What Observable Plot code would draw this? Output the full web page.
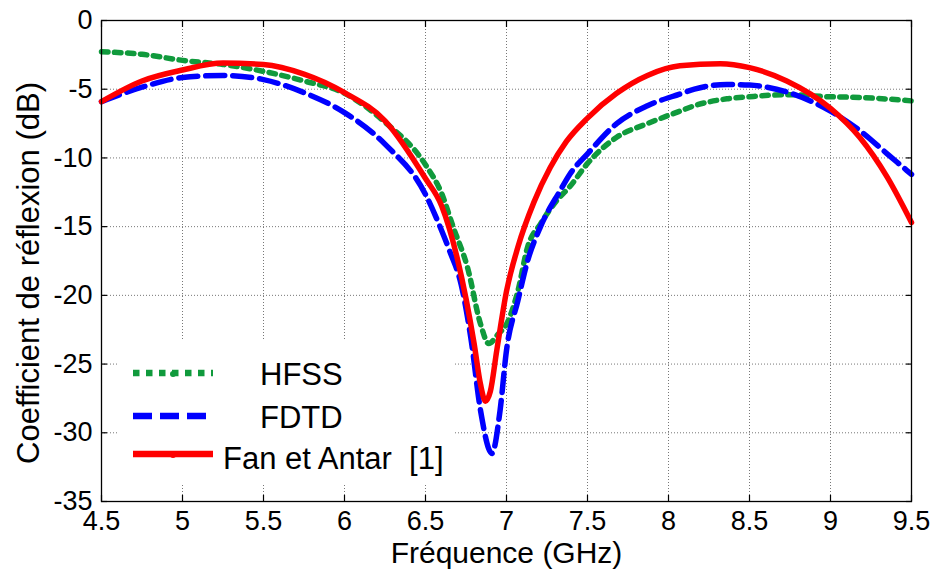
<!DOCTYPE html>
<html><head><meta charset="utf-8">
<script src="https://cdn.jsdelivr.net/npm/d3@7"></script>
<script src="https://cdn.jsdelivr.net/npm/@observablehq/plot@0.6"></script>
<style>
body{margin:0;background:#fff;}
#chart{width:933px;height:570px;}
</style>
</head><body><div id="chart"></div>
<script>
// ---- data ----
const seriesNames = ["HFSS", "FDTD", "Fan et Antar  [1]"];
const seriesColors = ["#109a3c", "#0000ff", "#ff0000"];
const xTitle = "Fréquence (GHz)";
const yTitle = "Coefficient de réflexion (dB)";

const hfssF = [4.5, 4.75, 5.0, 5.25, 5.5, 5.75, 6.0, 6.25, 6.5, 6.6, 6.67, 6.76, 6.84, 6.89, 6.95, 7.0, 7.07, 7.13, 7.21, 7.31, 7.39, 7.5, 7.68, 7.87, 8.07, 8.16, 8.36, 8.5, 8.73, 9.0, 9.18, 9.5];
const hfssDb = [-2.27, -2.46, -2.9, -3.2, -3.7, -4.4, -5.3, -7.4, -10.5, -12.6, -15.0, -18.0, -22.1, -23.5, -22.8, -22.1, -19.7, -16.5, -14.8, -13.1, -12.1, -10.4, -8.5, -7.5, -6.6, -6.2, -5.7, -5.55, -5.4, -5.55, -5.6, -5.85];

const fdtdF = [4.5, 4.75, 5.0, 5.25, 5.5, 5.75, 6.0, 6.25, 6.5, 6.6, 6.65, 6.72, 6.78, 6.84, 6.91, 6.96, 7.0, 7.07, 7.13, 7.21, 7.33, 7.39, 7.5, 7.68, 7.87, 8.07, 8.16, 8.36, 8.5, 8.73, 9.0, 9.18, 9.35, 9.5];
const fdtdDb = [-5.9, -4.85, -4.15, -4.0, -4.3, -5.25, -6.7, -9.0, -12.65, -15.3, -16.8, -19.2, -23.1, -28.4, -31.5, -28.4, -24.0, -20.4, -17.5, -15.0, -12.4, -11.2, -9.7, -7.5, -6.2, -5.35, -5.0, -4.65, -4.7, -5.2, -6.6, -8.0, -9.7, -11.2];

const fanF = [4.5, 4.75, 5.0, 5.25, 5.5, 5.75, 6.0, 6.25, 6.5, 6.6, 6.7, 6.8, 6.84, 6.87, 6.9, 6.94, 7.0, 7.07, 7.17, 7.27, 7.37, 7.5, 7.68, 7.87, 8.07, 8.32, 8.5, 8.73, 9.0, 9.18, 9.35, 9.5];
const fanDb = [-5.9, -4.4, -3.6, -3.1, -3.2, -3.9, -5.25, -7.3, -11.5, -13.5, -17.5, -23.5, -26.5, -27.7, -27.0, -24.0, -19.7, -16.5, -13.2, -10.7, -8.8, -7.1, -5.3, -4.0, -3.3, -3.14, -3.43, -4.4, -6.4, -8.5, -11.4, -14.7];

const xTicks = [4.5, 5, 5.5, 6, 6.5, 7, 7.5, 8, 8.5, 9, 9.5];
const yTicks = [0, -5, -10, -15, -20, -25, -30, -35];

// ---- build rows ----
const rows = (name, fs, dbs) => fs.map((f, i) => ({series: name, f, db: dbs[i]}));
const hfss = rows(seriesNames[0], hfssF, hfssDb);
const fdtd = rows(seriesNames[1], fdtdF, fdtdDb);
const fan = rows(seriesNames[2], fanF, fanDb);

const dashes = ["6.5,6.5", "19,8", null];
const fontFamily = "'Liberation Sans', Arial, Helvetica, sans-serif";
const fmt = d => String(d);

const plot = Plot.plot({
  width: 933,
  height: 570,
  marginLeft: 101,
  marginRight: 22,
  marginTop: 20,
  marginBottom: 69,
  style: {fontFamily, fontSize: "27px", color: "#000", background: "#fff", overflow: "visible"},
  x: {domain: [4.5, 9.5]},
  y: {domain: [-35, 0]},
  marks: [
    Plot.gridX(xTicks, {stroke: "#777", strokeOpacity: 1, strokeWidth: 1, strokeDasharray: "1,2"}),
    Plot.gridY(yTicks, {stroke: "#777", strokeOpacity: 1, strokeWidth: 1, strokeDasharray: "1,2"}),
    Plot.line(hfss, {x: "f", y: "db", stroke: seriesColors[0], strokeWidth: 5.5, strokeDasharray: dashes[0], curve: "monotone-x"}),
    Plot.line(fdtd, {x: "f", y: "db", stroke: seriesColors[1], strokeWidth: 5.5, strokeDasharray: dashes[1], curve: "monotone-x"}),
    Plot.line(fan, {x: "f", y: "db", stroke: seriesColors[2], strokeWidth: 5.5, curve: "monotone-x"}),
    Plot.frame({stroke: "#000", strokeWidth: 1.3}),
    // inward tick marks on all sides
    Plot.axisX(xTicks, {anchor: "bottom", tickSize: -6, tickFormat: () => "", label: null, strokeWidth: 1.2}),
    Plot.axisX(xTicks, {anchor: "top", tickSize: -6, tickFormat: () => "", label: null, strokeWidth: 1.2}),
    Plot.axisY(yTicks, {anchor: "left", tickSize: -6, tickFormat: () => "", label: null, strokeWidth: 1.2}),
    Plot.axisY(yTicks, {anchor: "right", tickSize: -6, tickFormat: () => "", label: null, strokeWidth: 1.2}),
    // tick labels
    Plot.axisX(xTicks, {anchor: "bottom", tickSize: 0, tickPadding: 9, tickFormat: fmt, fontSize: 27, label: null}),
    Plot.axisY(yTicks, {anchor: "left", tickSize: 0, tickPadding: 9, tickFormat: fmt, fontSize: 27, label: null}),
    // axis titles
    Plot.text([xTitle], {frameAnchor: "bottom", text: d => d, fontSize: 30, textAnchor: "middle", lineAnchor: "middle", dy: 52}),
    Plot.text([yTitle], {frameAnchor: "left", text: d => d, fontSize: 31, textAnchor: "middle", lineAnchor: "middle", rotate: -90, dx: -72, dy: 12})
  ]
});

document.getElementById("chart").appendChild(plot);

// ---- legend (inside plot area, lower-left) ----
const svg = d3.select(plot);
const lg = svg.append("g").attr("class", "legend");
lg.append("rect").attr("x", 117).attr("y", 340).attr("width", 338).attr("height", 143).attr("fill", "#fff");
const legendRows = seriesNames.map((name, i) => ({name, color: seriesColors[i], dash: dashes[i]}));
const lineY = [373, 416, 454];
const textY = [374, 417, 458];
const textX = [260, 260, 223];
legendRows.forEach((d, i) => {
  lg.append("line").attr("x1", 133).attr("x2", 213).attr("y1", lineY[i]).attr("y2", lineY[i])
    .attr("stroke", d.color).attr("stroke-width", 6.5).attr("stroke-dasharray", d.dash);
  if (i !== 1) lg.append("circle").attr("cx", 173).attr("cy", lineY[i] + 1).attr("r", 3).attr("fill", d.color);
  lg.append("text").attr("x", textX[i]).attr("y", textY[i]).attr("dy", "0.36em")
    .attr("text-anchor", "start")
    .attr("font-family", fontFamily).attr("font-size", 31).attr("fill", "#000")
    .style("white-space", "pre").text(d.name);
});
</script>
</body></html>
